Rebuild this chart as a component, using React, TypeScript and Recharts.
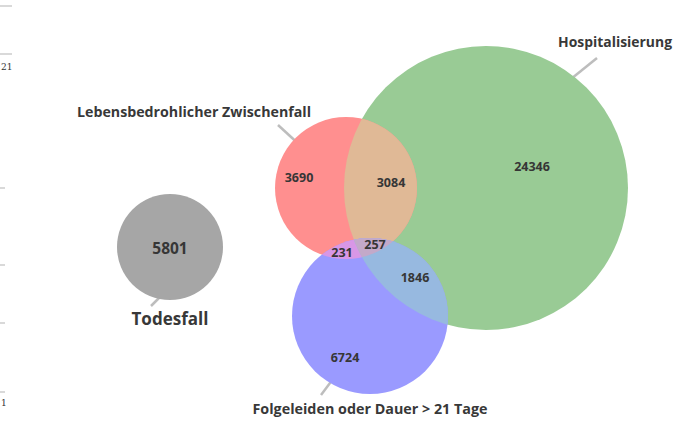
import { ScatterChart, Scatter, XAxis, YAxis, ReferenceLine } from "recharts";

// circles of the venn diagram (centre + radius in chart pixels), in drawing order
const sets = ["Todesfall", "Hospitalisierung", "Lebensbedrohlicher Zwischenfall", "Folgeleiden oder Dauer > 21 Tage"];
const setKeys = ["death", "hosp", "danger", "longterm"];
const setX = [170, 486, 346, 370];
const setY = [247, 188, 188, 316];
const setR = [53, 142, 71, 78];

// counts per region
const regionValues = [5801, 3690, 3084, 24346, 231, 257, 1846, 6724];
const regionX = [170, 299, 391, 532, 342, 375, 415, 345];
const regionY = [248, 177, 182, 166, 252, 244, 277, 357];

// set names + leader lines
const nameX = [170, 615, 194, 370];
const nameY = [318, 42, 112, 409];
const nameWidth = [77, 114, 234, 235];
const leaderFrom = [
    { x: 168, y: 289 },
    { x: 566, y: 83 },
    { x: 303, y: 148 },
    { x: 339, y: 371 },
];
const leaderTo = [
    { x: 151, y: 306 },
    { x: 597, y: 58 },
    { x: 278, y: 125 },
    { x: 321, y: 395 },
];

// leftovers of a neighbouring chart on the left edge
const stubY = [6, 54, 188, 265, 323, 392];
const stubLen = [12, 12, 5, 5, 5, 5];
const stubText = ["21", "1"];
const stubTextY = [67, 403];

const COLORS: Record<string, string> = {
    death: "#a6a6a6",
    danger: "#ff8f8f",
    hosp: "#99cb95",
    longterm: "#9a9aff",
    dangerHosp: "#e0b996",
    dangerLong: "#d897e6",
    hospLong: "#97b9e0",
    all: "#c3a9c9",
};

const circles = sets.map((name, i) => ({
    name,
    key: setKeys[i],
    x: setX[i],
    y: setY[i],
    r: setR[i],
}));
const regions = regionValues.map((value, i) => ({ value, x: regionX[i], y: regionY[i] }));
const names = sets.map((name, i) => ({ name, x: nameX[i], y: nameY[i], w: nameWidth[i] }));
const stubLabels = stubText.map((t, i) => ({ t, x: 0, y: stubTextY[i] }));

const renderCircle = (props: any) => {
    const { cx, cy, payload } = props;
    const r = payload.r;
    const k = payload.key;
    return (
        <g>
            <defs>
                <clipPath id={"clip-" + k}>
                    <circle cx={cx} cy={cy} r={r} />
                </clipPath>
            </defs>
            <circle cx={cx} cy={cy} r={r} fill={COLORS[k]} />
            {k === "danger" && (
                <circle cx={cx} cy={cy} r={r} fill={COLORS.dangerHosp} clipPath="url(#clip-hosp)" />
            )}
            {k === "longterm" && (
                <>
                    <circle cx={cx} cy={cy} r={r} fill={COLORS.dangerLong} clipPath="url(#clip-danger)" />
                    <circle cx={cx} cy={cy} r={r} fill={COLORS.hospLong} clipPath="url(#clip-hosp)" />
                    <g clipPath="url(#clip-hosp)">
                        <circle cx={cx} cy={cy} r={r} fill={COLORS.all} clipPath="url(#clip-danger)" />
                    </g>
                </>
            )}
        </g>
    );
};

const renderValue = (props: any) => {
    const { cx, cy, payload } = props;
    const big = payload.value === 5801;
    return (
        <text
            x={cx}
            y={cy}
            textAnchor="middle"
            dominantBaseline="central"
            fontFamily="'Open Sans', sans-serif"
            fontWeight={700}
            fontSize={big ? 15.5 : 12.5}
            fill="#363636"
        >
            {payload.value}
        </text>
    );
};

const renderName = (props: any) => {
    const { cx, cy, payload } = props;
    const big = payload.name === "Todesfall";
    return (
        <text
            x={cx}
            y={cy}
            textAnchor="middle"
            dominantBaseline="central"
            fontFamily="'Open Sans', sans-serif"
            fontWeight={700}
            fontSize={big ? 18 : 13.5}
            fill="#383838"
            textLength={payload.w}
            lengthAdjust="spacingAndGlyphs"
        >
            {payload.name}
        </text>
    );
};

const renderStub = (props: any) => {
    const { cx, cy, payload } = props;
    return (
        <text
            x={cx + 1}
            y={cy}
            dominantBaseline="central"
            fontFamily="'DejaVu Serif', serif"
            fontSize={9}
            fill="#333"
        >
            {payload.t}
        </text>
    );
};

export default function App() {
    return (
        <div style={{ position: "absolute", left: 0, top: 0, background: "#fff" }}>
            <ScatterChart
                width={685}
                height={439}
                margin={{ top: 0, right: 0, bottom: 0, left: 0 }}
            >
                <XAxis type="number" dataKey="x" domain={[0, 685]} hide allowDataOverflow />
                <YAxis type="number" dataKey="y" domain={[0, 439]} reversed hide allowDataOverflow />

                <Scatter data={circles} shape={renderCircle} isAnimationActive={false} />

                {leaderFrom.map((p, i) => (
                    <ReferenceLine
                        key={"lead" + i}
                        segment={[p, leaderTo[i]]}
                        stroke="#bdbdbd"
                        strokeWidth={2.5}
                        ifOverflow="visible"
                    />
                ))}

                {stubY.map((y, i) => (
                    <ReferenceLine
                        key={"stub" + i}
                        segment={[{ x: 0, y }, { x: stubLen[i], y }]}
                        stroke="#d9d9d9"
                        strokeWidth={2}
                        ifOverflow="visible"
                    />
                ))}

                <Scatter data={regions} shape={renderValue} isAnimationActive={false} />
                <Scatter data={names} shape={renderName} isAnimationActive={false} />
                <Scatter data={stubLabels} shape={renderStub} isAnimationActive={false} />
            </ScatterChart>
        </div>
    );
}
